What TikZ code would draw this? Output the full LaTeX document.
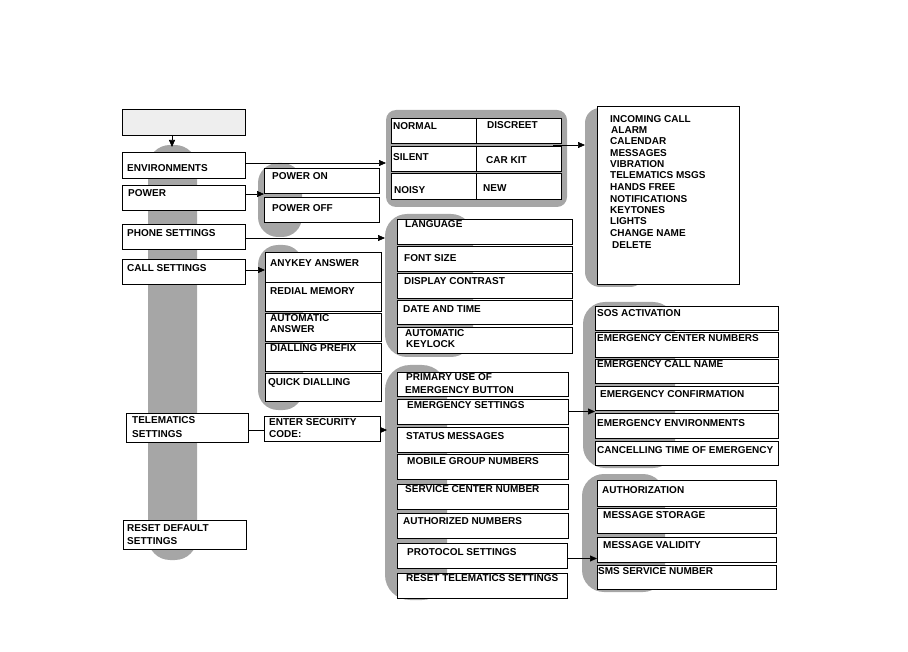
\documentclass[tikz,border=0pt]{standalone}
\usepackage{fontspec}
\setmainfont{Liberation Sans}
\usetikzlibrary{arrows.meta,calc}
\definecolor{band}{RGB}{166,166,166}
\definecolor{topfill}{RGB}{238,238,238}
\tikzset{
 bx/.style={draw, fill=white, anchor=north west, inner sep=0pt, outer sep=0pt, line width=0.8pt},
 tx/.style={anchor=base west, inner sep=0pt, font=\fontsize{10}{12}\selectfont\bfseries},
 gband/.style={fill=band, draw=none, anchor=north west, inner sep=0pt, outer sep=0pt, rounded corners=#1},
 arr/.style={-{Triangle[length=7pt,width=6pt]}, line width=0.7pt},
 ln/.style={line width=0.7pt}
}
\newcommand\Bx[8]{\node[bx, minimum width={(#4-#2)*1pt}, minimum height={(#5-#3)*1pt}] (#1) at (#2,#3) {};
  \node[tx] (#1-t) at (#6,#7) {#8};}
\newcommand\Tl[4]{\node[tx] (#1) at (#2,#3) {#4};}
\newcommand\Gb[6]{\node[gband=#6, minimum width={(#4-#2)*1pt}, minimum height={(#5-#3)*1pt}] (#1) at (#2,#3) {};}
\begin{document}
\begin{tikzpicture}[x=1pt,y=-1pt]
\useasboundingbox (0,0) rectangle (908,652);
% gray bands
\Gb{gmain}{148}{145}{197}{560}{22pt}
\Gb{gpower}{258}{163}{302}{237}{20pt}
\Gb{gcall}{258}{245}{303}{410}{20pt}
\Gb{genv}{386}{110}{567}{207}{10pt}
\Gb{glist}{585}{108}{645}{287}{15pt}
\Gb{gphone}{385}{214}{473}{357}{22pt}
\Gb{gtele}{385}{365}{447}{600}{25pt}
\Gb{gemerg}{583}{302}{675}{468}{22pt}
\Gb{gproto}{582}{474}{665}{592}{22pt}
% left column
\node[bx, fill=topfill, minimum width=123pt, minimum height=26pt] (top) at (122,109) {};
\Bx{env}{122}{152}{245}{178}{127}{172}{ENVIRONMENTS}
\Bx{power}{122}{185}{245}{210}{128}{197}{POWER}
\Bx{phone}{122}{224}{245}{249}{127}{237}{PHONE SETTINGS}
\Bx{call}{122}{259}{245}{284}{127}{272}{CALL SETTINGS}
\Bx{tele}{126}{413}{248}{442}{132}{424}{TELEMATICS}
\Tl{tele-t2}{132}{437}{SETTINGS}
\Bx{reset}{123}{520}{246}{549}{127}{531}{RESET DEFAULT}
\Tl{reset-t2}{127}{544}{SETTINGS}
% second column
\Bx{pon}{264}{168}{379}{193}{272}{180}{POWER ON}
\Bx{poff}{264}{197}{379}{222}{272}{212}{POWER OFF}
\Bx{anykey}{265}{252}{381}{282}{270}{267}{ANYKEY ANSWER}
\Bx{redial}{265}{282}{381}{311}{270}{295}{REDIAL MEMORY}
\Bx{autoans}{265}{313}{381}{341}{270}{322}{AUTOMATIC}
\Tl{autoans-t2}{270}{333}{ANSWER}
\Bx{prefix}{265}{343}{381}{371}{270}{352}{DIALLING PREFIX}
\Bx{quick}{265}{373}{381}{401}{268}{385}{QUICK DIALLING}
\Bx{enter}{264}{416}{380}{441}{269}{425}{ENTER SECURITY}
\Tl{enter-t2}{269}{437}{CODE:}
% environments group
\Bx{normal}{391}{118}{476}{143}{393}{130}{NORMAL}
\Bx{discreet}{476}{118}{561}{143}{487}{129}{DISCREET}
\Bx{silent}{391}{146}{476}{171}{393}{161}{SILENT}
\Bx{carkit}{476}{146}{561}{171}{486}{164}{CAR KIT}
\Bx{noisy}{391}{173}{476}{199}{394}{194}{NOISY}
\Bx{new}{476}{173}{561}{199}{483}{192}{NEW}
% list
\node[bx, minimum width=142pt, minimum height=178pt] (list) at (597,106) {};
\Tl{l1}{610}{123}{INCOMING CALL}
\Tl{l2}{611}{134}{ALARM}
\Tl{l3}{610}{145}{CALENDAR}
\Tl{l4}{610}{157}{MESSAGES}
\Tl{l5}{610}{168}{VIBRATION}
\Tl{l6}{610}{179}{TELEMATICS MSGS}
\Tl{l7}{610}{191}{HANDS FREE}
\Tl{l8}{610}{203}{NOTIFICATIONS}
\Tl{l9}{610}{214}{KEYTONES}
\Tl{l10}{610}{225}{LIGHTS}
\Tl{l11}{610}{237}{CHANGE NAME}
\Tl{l12}{612}{249}{DELETE}
% phone settings group
\Bx{lang}{397}{219}{572}{244}{405}{228}{LANGUAGE}
\Bx{fontsz}{397}{246}{572}{271}{404}{262}{FONT SIZE}
\Bx{contrast}{397}{273}{572}{298}{404}{285}{DISPLAY CONTRAST}
\Bx{date}{397}{300}{572}{324}{403}{313}{DATE AND TIME}
\Bx{keylock}{397}{327}{572}{353}{405}{337}{AUTOMATIC}
\Tl{keylock-t2}{406}{348}{KEYLOCK}
% telematics group
\Bx{primary}{397}{372}{568}{396}{406}{381}{PRIMARY USE OF}
\Tl{primary-t2}{405}{393}{EMERGENCY BUTTON}
\Bx{emset}{397}{399}{568}{424}{407}{409}{EMERGENCY SETTINGS}
\Bx{status}{397}{427}{568}{452}{406}{439}{STATUS MESSAGES}
\Bx{mobile}{397}{454}{568}{479}{407}{464}{MOBILE GROUP NUMBERS}
\Bx{service}{397}{484}{568}{509}{405}{492}{SERVICE CENTER NUMBER}
\Bx{authnum}{397}{513}{568}{538}{403}{524}{AUTHORIZED NUMBERS}
\Bx{proto}{397}{543}{567}{568}{407}{555}{PROTOCOL SETTINGS}
\Bx{resettel}{397}{573}{567}{598}{406}{581}{RESET TELEMATICS SETTINGS}
% emergency group
\Bx{sos}{595}{306}{778}{330}{597}{317}{SOS ACTIVATION}
\Bx{ecn}{595}{332}{778}{357}{597}{342}{EMERGENCY CENTER NUMBERS}
\Bx{ecall}{595}{359}{778}{383}{597}{368}{EMERGENCY CALL NAME}
\Bx{econf}{595}{386}{778}{410}{600}{397}{EMERGENCY CONFIRMATION}
\Bx{eenv}{595}{413}{778}{438}{597}{426}{EMERGENCY ENVIRONMENTS}
\Bx{cancel}{595}{441}{778}{465}{597}{453}{CANCELLING TIME OF EMERGENCY}
% protocol group
\Bx{authz}{597}{480}{776}{506}{602}{493}{AUTHORIZATION}
\Bx{mstore}{597}{508}{776}{533}{603}{518}{MESSAGE STORAGE}
\Bx{mvalid}{597}{537}{776}{562}{603}{548}{MESSAGE VALIDITY}
\Bx{sms}{597}{565}{776}{589}{598}{574}{SMS SERVICE NUMBER}
% connectors
\coordinate (topend) at (172,147);
\draw[arr] (top.south -| topend) -- (topend);
\draw[arr] ([yshift=2pt]env.east) -- ([yshift=2pt]env.east -| genv.west);
\draw[arr] ([yshift=3.5pt]power.east) -- ([yshift=3.5pt]power.east -| pon.west);
\draw[arr] ([yshift=-1.5pt]phone.east) -- ([yshift=-1.5pt]phone.east -| gphone.west);
\draw[arr] ([yshift=1.5pt]call.east) -- ([yshift=1.5pt]call.east -| anykey.west);
\draw[ln] ([yshift=-3pt]tele.east) -- ([yshift=-3pt]tele.east -| enter.west);
\draw[arr] ([yshift=-1.5pt]enter.east) -- ([yshift=-1.5pt,xshift=2pt]enter.east -| gtele.west);
\coordinate (envout) at (553,145);
\draw[arr] (envout) -- (envout -| glist.west);
\draw[arr] (emset.east) -- (emset.east -| sos.west);
\draw[arr] ([yshift=-3pt]proto.east) -- ([yshift=-3pt]proto.east -| authz.west);
\end{tikzpicture}
\end{document}
